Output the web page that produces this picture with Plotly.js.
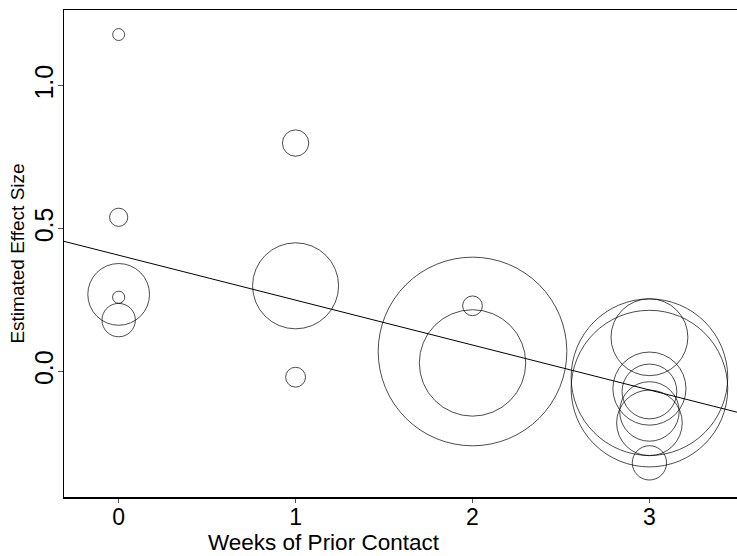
<!DOCTYPE html>
<html>
<head>
<meta charset="utf-8">
<script src="https://cdn.plot.ly/plotly-3.0.1.min.js"></script>
<style>html,body{margin:0;padding:0;background:#fff}#chart{width:737px;height:556px}</style>
</head>
<body>
<div id="chart"></div>
<script>
// Weeks of prior contact (capped at 3), estimated effect sizes and sampling variances
var weeks = [2, 3, 3, 0, 0, 3, 3, 3, 0, 1, 0, 0, 1, 2, 3, 3, 1, 2, 3];
var effect = [0.03, 0.12, -0.14, 1.18, 0.26, -0.06, -0.02, -0.32, 0.27, 0.80, 0.54, 0.18, -0.02, 0.23, -0.18, -0.06, 0.30, 0.07, -0.07];
var variance = [0.0156, 0.0216, 0.0279, 0.1391, 0.1362, 0.0106, 0.0106, 0.0484, 0.0269, 0.0630, 0.0912, 0.0497, 0.0835, 0.0841, 0.0253, 0.0227, 0.0193, 0.0088, 0.0303];
// meta-regression fit
var intercept = 0.4072;
var slope = -0.1573;
var xTicks = [0, 1, 2, 3];
var yTicks = [0.0, 0.5, 1.0];
var yTickText = ["0.0", "0.5", "1.0"];

var xRange = [-0.309, 3.495];
var yRange = [-0.4396, 1.266];

var sizeScale = 1.66;
var sizes = variance.map(function (v) { return sizeScale / v; });

var lineX = xRange.slice();
var lineY = lineX.map(function (x) { return intercept + slope * x; });

var traces = [
  {
    x: weeks, y: effect, type: 'scatter', mode: 'markers',
    marker: { symbol: 'circle-open', size: sizes, sizemode: 'diameter', color: '#000', line: { width: 1, color: '#000' } },
    cliponaxis: true, hoverinfo: 'x+y'
  },
  {
    x: lineX, y: lineY, type: 'scatter', mode: 'lines',
    line: { color: '#000', width: 1 }, hoverinfo: 'skip'
  }
];

var font = "'Liberation Sans', Arial, Helvetica, sans-serif";
var layout = {
  width: 737, height: 556,
  margin: { l: 64, r: 0, t: 10, b: 59, pad: 0 },
  paper_bgcolor: '#fff', plot_bgcolor: '#fff',
  showlegend: false,
  font: { family: font, color: '#000' },
  xaxis: {
    range: xRange, tickvals: xTicks, ticktext: xTicks.map(String),
    showgrid: false, zeroline: false,
    showline: true, linecolor: '#000', linewidth: 1.5, mirror: true,
    ticks: 'outside', ticklen: 4, tickwidth: 1, tickcolor: '#555',
    ticklabelstandoff: -5,
    tickfont: { size: 23, family: font, color: '#000' },
    automargin: false
  },
  yaxis: {
    range: yRange, tickvals: yTicks, ticktext: yTickText,
    showgrid: false, zeroline: false,
    showline: true, linecolor: '#000', linewidth: 1.5,
    ticks: 'outside', ticklen: 5, tickwidth: 1, tickcolor: '#555',
    tickangle: -90,
    ticklabelstandoff: -5,
    tickfont: { size: 25, family: font, color: '#000' },
    title: { text: 'Estimated Effect Size', font: { size: 19, family: font, color: '#000' }, standoff: 0 },
    automargin: false
  },
  annotations: [
    {
      text: 'Weeks of Prior Contact', xref: 'paper', yref: 'paper',
      x: 0.387, y: 0, yshift: -31, xanchor: 'center', yanchor: 'top', showarrow: false,
      font: { size: 22.5, family: font, color: '#000' }
    }
  ]
};

Plotly.newPlot('chart', traces, layout, { displayModeBar: false, staticPlot: true });
</script>
</body>
</html>
